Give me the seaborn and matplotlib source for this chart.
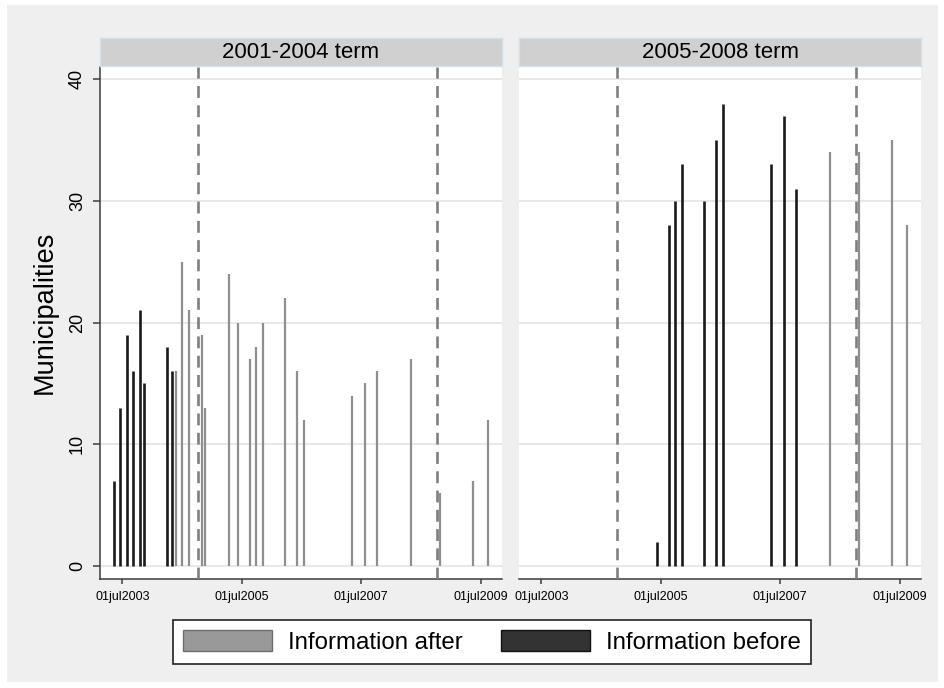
import pandas as pd
import numpy as np
import matplotlib.pyplot as plt
from matplotlib.patches import Patch
import seaborn as sns

# lottery dates shared by both terms
lottery_dates = ['2003-05-11', '2003-06-19', '2003-07-30', '2003-09-03', '2003-10-17',
                 '2003-11-13', '2004-03-30', '2004-04-28', '2004-05-26', '2004-07-02',
                 '2004-08-10', '2004-10-29', '2004-11-18', '2005-04-16', '2005-06-10',
                 '2005-08-18', '2005-09-26', '2005-11-08', '2006-03-22', '2006-06-02',
                 '2006-07-18', '2007-05-08', '2007-07-23', '2007-10-08', '2008-04-29',
                 '2008-10-27', '2009-05-15', '2009-08-17']

term1_counts = [7, 13, 19, 16, 21, 15, 18, 16, 16, 25, 21, 19, 13, 24, 20,
                17, 18, 20, 22, 16, 12, 14, 15, 16, 17, 6, 7, 12]
term1_info = ['before'] * 8 + ['after'] * 20

term2_counts = [None] * 14 + [2, 28, 30, 33, 30, 35, 38, 33, 37, 31, 34, 34, 35, 28]
term2_info = [None] * 14 + ['before'] * 10 + ['after'] * 4

terms = ['2001-2004 term', '2005-2008 term']
election_dates = ['2004-10-03', '2008-10-05']
tick_dates = ['2003-07-01', '2005-07-01', '2007-07-01', '2009-07-01']
tick_labels = ['01jul2003', '01jul2005', '01jul2007', '01jul2009']

rows = []
for term, counts, infos in [(terms[0], term1_counts, term1_info), (terms[1], term2_counts, term2_info)]:
    for d, c, i in zip(lottery_dates, counts, infos):
        if c is not None:
            rows.append({'term': term, 'date': pd.Timestamp(d), 'count': c, 'info': i})
df = pd.DataFrame(rows)

sns.set_theme(style="white")
plt.rcParams['font.family'] = ['Liberation Sans', 'DejaVu Sans']
plt.rcParams['text.color'] = 'black'
plt.rcParams['xtick.color'] = 'black'
plt.rcParams['ytick.color'] = 'black'
plt.rcParams['axes.labelcolor'] = 'black'

COL_AFTER = '#8f8f8f'
COL_BEFORE = '#1a1a1a'
BG = '#efefef'
AX_COL = '#3c3c3c'

W, H = 944, 688
fig = plt.figure(figsize=(9.44, 6.88), dpi=100, facecolor='white')
bg = fig.add_axes([7 / W, 1 - 682 / H, 931 / W, 677 / H], zorder=-10)
bg.set_facecolor(BG)
bg.set_xticks([])
bg.set_yticks([])
for sp in bg.spines.values():
    sp.set_visible(False)

ax_left = [100, 519]
ax_w = 402
ax_top, ax_bot = 67, 579

xlim = (pd.Timestamp('2003-02-14'), pd.Timestamp('2009-11-09'))

for k, term in enumerate(terms):
    ax = fig.add_axes([ax_left[k] / W, 1 - ax_bot / H, ax_w / W, (ax_bot - ax_top) / H])
    ax.set_facecolor('white')
    sub = df[df['term'] == term]
    for info, col, lw in [('after', COL_AFTER, 1.6), ('before', COL_BEFORE, 1.9)]:
        s = sub[sub['info'] == info]
        ax.vlines(s['date'], 0, s['count'], color=col, linewidth=lw, zorder=3)
    for e in election_dates:
        ax.axvline(pd.Timestamp(e), color='#7f7f7f', linewidth=1.9, linestyle=(0, (4.5, 2.8)), zorder=4)

    ax.set_xlim(xlim)
    ax.set_ylim(-1.07, 41.0)
    ax.set_yticks([0, 10, 20, 30, 40])
    ax.yaxis.grid(True, color='#e6e6e6', linewidth=1.3)
    ax.xaxis.grid(False)
    ax.set_axisbelow(True)
    ax.set_xticks([pd.Timestamp(t) for t in tick_dates])
    ax.set_xticklabels(tick_labels, fontsize=9)
    ax.tick_params(axis='x', length=3.5, width=1.1, color=AX_COL, pad=5, bottom=True)

    for side in ['top', 'right']:
        ax.spines[side].set_visible(False)
    ax.spines['bottom'].set_color(AX_COL)
    ax.spines['bottom'].set_linewidth(1.1)
    if k == 0:
        ax.spines['left'].set_color(AX_COL)
        ax.spines['left'].set_linewidth(1.1)
        ax.tick_params(axis='y', length=5, width=1.1, color=AX_COL, left=True,
                       labelsize=13, pad=5, labelrotation=90)
        for lab in ax.get_yticklabels():
            lab.set_va('center')
        ax.set_ylabel('Municipalities', fontsize=19.5, labelpad=8, y=0.52)
    else:
        ax.spines['left'].set_visible(False)
        ax.tick_params(axis='y', left=False, labelleft=False)

    # strip header
    hax = fig.add_axes([ax_left[k] / W, 1 - 66 / H, ax_w / W, 28 / H])
    hax.set_facecolor('#d0d0d0')
    hax.set_xticks([])
    hax.set_yticks([])
    for sp in hax.spines.values():
        sp.set_color('#d3e2ea')
        sp.set_linewidth(1)
    hax.text(0.5, 0.5, term, ha='center', va='center', fontsize=16, transform=hax.transAxes)

handles = [Patch(facecolor='#999999', edgecolor='#6e6e6e', linewidth=1, label='Information after'),
           Patch(facecolor='#333333', edgecolor='#111111', linewidth=1, label='Information before')]
leg = fig.legend(handles=handles, loc='center', bbox_to_anchor=(492 / W, 1 - 642 / H), ncol=2,
                 fontsize=17.3, frameon=True, fancybox=False, handlelength=3.7, handleheight=0.92,
                 handletextpad=0.67, columnspacing=1.6, borderpad=0.42, borderaxespad=0)
leg.get_frame().set_edgecolor('#222222')
leg.get_frame().set_linewidth(1.2)
leg.get_frame().set_facecolor('white')
leg.get_frame().set_alpha(1)

fig.savefig('out.png', dpi=100, facecolor=fig.get_facecolor())
